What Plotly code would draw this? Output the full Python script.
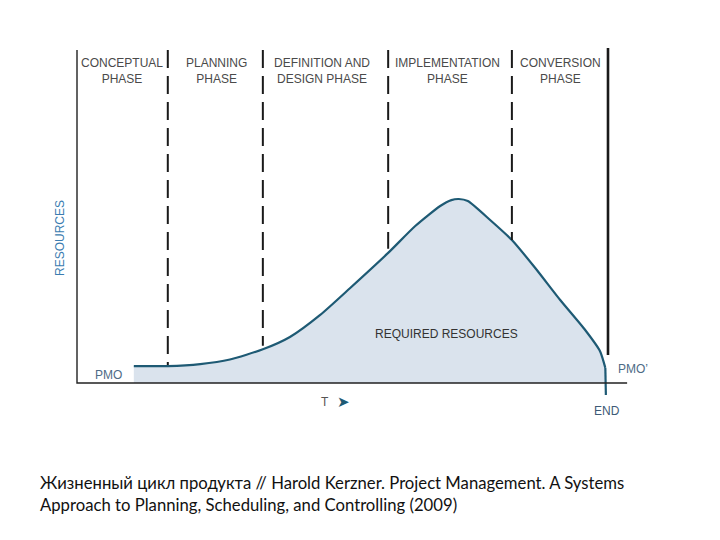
import plotly.graph_objects as go

# ---- data (time units 0..100 = project span, resources 0..100 = peak) ----
curve_t = [10.7, 17.1, 23.2, 28.8, 35.0, 40.1, 45.8, 51.4, 58.6, 63.7, 68.4, 70.5, 71.9, 73.6, 77.8, 81.9, 86.3, 91.0, 95.7, 98.5, 99.5]
curve_r = [9.2, 9.2, 10.3, 12.8, 18.3, 25.0, 37.0, 51.5, 70.7, 85.3, 96.2, 99.4, 100.0, 98.9, 88.6, 77.7, 62.5, 45.1, 28.8, 17.3, 8.2]

phase_names = ["CONCEPTUAL<br>PHASE", "PLANNING<br>PHASE", "DEFINITION AND<br>DESIGN PHASE",
               "IMPLEMENTATION<br>PHASE", "CONVERSION<br>PHASE"]
phase_centers = [8.5, 26.3, 46.2, 69.8, 91.0]
boundary_t = [17.1, 35.0, 58.6, 81.9]
boundary_bottom = [9.8, 20.2, 73.0, 77.7]
top_r = 181.0
end_t = 99.6
end_r = -6.5
final_bottom = 15.2
axis_end_t = 103.6

# pixel mapping: px = 77 + 5.31*t ; py = 383 - 1.84*r
SX, SY = 5.31, 1.84
x0 = -77 / SX
x1 = (720 - 77) / SX
y0 = -(540 - 383) / SY
y1 = 383 / SY

fig = go.Figure()

# required resources fill + curve
fig.add_trace(go.Scatter(x=curve_t, y=curve_r, mode="lines", fill="tozeroy",
                         fillcolor="#dae3ed", line=dict(color="#1e5a74", width=2.2, shape="spline", smoothing=0.6),
                         hoverinfo="skip"))
# END drop
fig.add_trace(go.Scatter(x=[curve_t[-1], end_t, end_t], y=[curve_r[-1], 0, end_r], mode="lines",
                         line=dict(color="#1e5a74", width=2.2), hoverinfo="skip"))

# phase boundaries
for bt, bb in zip(boundary_t, boundary_bottom):
    fig.add_trace(go.Scatter(x=[bt, bt], y=[top_r, bb], mode="lines",
                             line=dict(color="#1a1a1a", width=2, dash="18px,8px"), hoverinfo="skip"))

# final solid line
fig.add_trace(go.Scatter(x=[100, 100], y=[top_r + 1, final_bottom], mode="lines",
                         line=dict(color="#1a1a1a", width=2.6), hoverinfo="skip"))
# axes lines
fig.add_trace(go.Scatter(x=[0, 0, axis_end_t], y=[top_r, 0, 0], mode="lines",
                         line=dict(color="#222222", width=1.4), hoverinfo="skip"))

ann = []
for name, c in zip(phase_names, phase_centers):
    ann.append(dict(x=c, y=(383 - 71) / SY, text=name, showarrow=False,
                    font=dict(family="Liberation Sans, Arial", size=12, color="#4a4a4a"),
                    align="center", xanchor="center", yanchor="middle"))

ann += [
    dict(x=(60 - 77) / SX, y=(383 - 238) / SY, text="RESOURCES", textangle=-90, showarrow=False,
         font=dict(family="Liberation Sans, Arial", size=12, color="#3b7cb0")),
    dict(x=(108 - 77) / SX, y=(383 - 375) / SY, text="PMO", showarrow=False,
         font=dict(family="Liberation Sans, Arial", size=12, color="#4d6b86")),
    dict(x=(633 - 77) / SX, y=(383 - 369) / SY, text="PMO’", showarrow=False,
         font=dict(family="Liberation Sans, Arial", size=12, color="#4d6b86")),
    dict(x=(607 - 77) / SX, y=(383 - 411) / SY, text="END", showarrow=False,
         font=dict(family="Liberation Sans, Arial", size=12, color="#3d5a76")),
    dict(x=(446 - 77) / SX, y=(383 - 334) / SY, text="REQUIRED RESOURCES", showarrow=False,
         font=dict(family="Liberation Sans, Arial", size=12, color="#333333")),
    dict(x=(325 - 77) / SX, y=(383 - 402) / SY, text="T", showarrow=False,
         font=dict(family="Liberation Sans, Arial", size=12, color="#555555")),
    dict(x=(343 - 77) / SX, y=(383 - 402) / SY, text="➤", showarrow=False,
         font=dict(family="DejaVu Sans", size=15, color="#1e5a74")),
    dict(x=38 / 720, y=1 - 483 / 540, xref="paper", yref="paper", xanchor="left", yanchor="middle",
         text="Жизненный цикл продукта // Harold Kerzner. Project Management. A Systems",
         showarrow=False, font=dict(family="Lato, Noto Sans", size=16.7, color="#111111")),
    dict(x=38 / 720, y=1 - 505 / 540, xref="paper", yref="paper", xanchor="left", yanchor="middle",
         text="Approach to Planning, Scheduling, and Controlling (2009)",
         showarrow=False, font=dict(family="Lato, Noto Sans", size=16.7, color="#111111")),
]

fig.update_layout(
    width=720, height=540, margin=dict(l=0, r=0, t=0, b=0),
    paper_bgcolor="white", plot_bgcolor="white", showlegend=False,
    xaxis=dict(range=[x0, x1], visible=False, fixedrange=True),
    yaxis=dict(range=[y0, y1], visible=False, fixedrange=True),
    annotations=ann,
)

fig.write_html("out.html", post_script="document.body.style.margin='0';",
               config={"displayModeBar": False})
